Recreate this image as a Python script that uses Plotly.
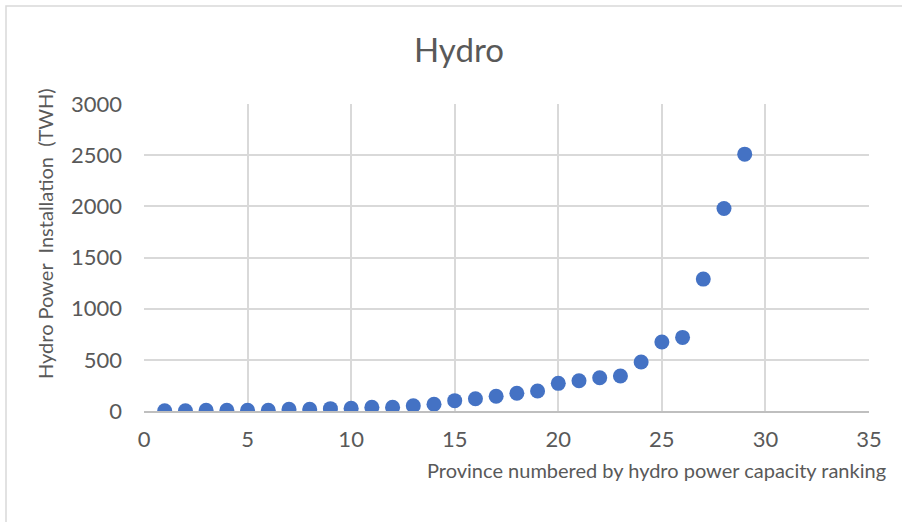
import plotly.graph_objects as go

# Hydro power installation by province rank
rank = list(range(1, 30))
hydro_twh = [2, 2, 7, 7, 7, 7, 16, 16, 23, 26, 36, 36, 52, 66, 101, 120, 144,
             173, 196, 270, 296, 325, 342, 479, 674, 719, 1289, 1979, 2510]

x_ticks = [0, 5, 10, 15, 20, 25, 30, 35]
y_ticks = [0, 500, 1000, 1500, 2000, 2500, 3000]

FONT = "Lato"
TXT = "#595959"
GRID = "#d9d9d9"

W, H = 902, 522
L, R, T, B = 144, 33, 104, 111
pw, ph = W - L - R, H - T - B


def px_x(p):
    return (p - L) / pw


def px_y(p):
    return (H - B - p) / ph


fig = go.Figure(
    go.Scatter(
        x=rank, y=hydro_twh, mode="markers",
        marker=dict(color="#4472C4", size=15, line=dict(width=0)),
        showlegend=False,
    )
)

fig.update_layout(
    width=W, height=H,
    margin=dict(l=L, r=R, t=T, b=B, autoexpand=False),
    paper_bgcolor="white", plot_bgcolor="white",
    font=dict(family=FONT, color=TXT),
    title=dict(text="Hydro", x=459 / W, xanchor="center", xref="container",
               y=1 - 50 / H, yanchor="middle", yref="container",
               font=dict(family=FONT, size=33, color=TXT)),
    xaxis=dict(range=[0, 35], tickvals=x_ticks, showgrid=True, gridcolor=GRID,
               gridwidth=1.5, zeroline=False, showline=True, linecolor="#bfbfbf",
               linewidth=1.5, tickfont=dict(size=22, color=TXT),
               ticklabelstandoff=8, fixedrange=True),
    yaxis=dict(range=[0, 3000], tickvals=y_ticks, showgrid=True, gridcolor=GRID,
               gridwidth=1.5, zeroline=False, showline=False,
               tickfont=dict(size=22, color=TXT), ticklabelstandoff=21,
               fixedrange=True),
    annotations=[
        dict(text="Province numbered by hydro power capacity ranking",
             xref="paper", yref="paper", x=px_x(888), y=px_y(470),
             xanchor="right", yanchor="middle", showarrow=False,
             font=dict(size=20, color=TXT, family=FONT)),
        dict(text="Hydro Power  Installation  (TWH)",
             xref="paper", yref="paper", x=px_x(45), y=px_y(234),
             xanchor="center", yanchor="middle", textangle=-90, showarrow=False,
             font=dict(size=20, color=TXT, family=FONT)),
    ],
    shapes=[
        dict(type="rect", xref="paper", yref="paper",
             x0=px_x(6), x1=px_x(910), y0=px_y(530), y1=px_y(6),
             line=dict(color=GRID, width=1.5), layer="below"),
    ],
)

fig.write_html("out.html")
